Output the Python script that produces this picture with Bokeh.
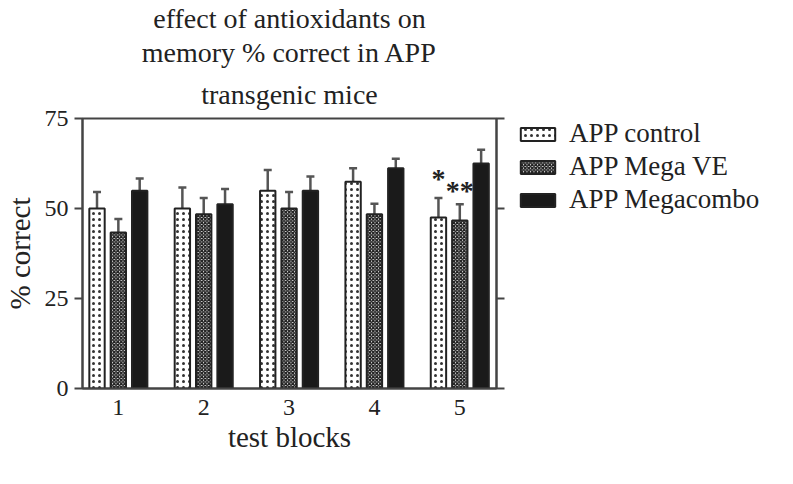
from bokeh.plotting import figure
from bokeh.layouts import row
from bokeh.models import (Range1d, FixedTicker, LinearAxis, Legend, LegendItem,
                          Whisker, ColumnDataSource, TeeHead, Title, Label)
from bokeh.embed import file_html
from bokeh.resources import INLINE

# ---- data ----
blocks = [1, 2, 3, 4, 5]
block_labels = ["1", "2", "3", "4", "5"]
series_names = ["APP control", "APP Mega VE", "APP Megacombo"]
control = [50.0, 50.0, 54.9, 57.4, 47.5]
control_err = [4.6, 5.8, 5.8, 3.8, 5.4]
megave = [43.3, 48.4, 50.0, 48.4, 46.7]
megave_err = [3.8, 4.5, 4.6, 2.9, 4.5]
megacombo = [54.9, 51.2, 54.9, 61.2, 62.5]
megacombo_err = [3.4, 4.2, 4.0, 2.6, 3.8]
y_ticks = [0, 25, 50, 75]
title_lines = ["effect of antioxidants on", "memory % correct in APP", "transgenic mice"]
sig_text = ["*", "**"]
sig_block = [5, 5]
sig_series = [0, 1]
sig_y = [58.3, 55.0]

FONT = "Liberation Serif"
DARK = "#222222"
H = 468

p = figure(width=516, height=H, output_backend="svg", toolbar_location=None,
           x_range=Range1d(0.58, 5.43), y_range=Range1d(0, 75),
           min_border_left=76, min_border_right=20, min_border_top=112,
           min_border_bottom=80)
p.title = None
p.background_fill_color = "white"
p.border_fill_color = "white"
p.outline_line_color = "#444444"
p.outline_line_width = 2
p.grid.visible = False

offsets = [-0.25, 0.0, 0.25]
width = 0.18
vals = [control, megave, megacombo]
errs = [control_err, megave_err, megacombo_err]
styles = [
    dict(fill_color="white", hatch_pattern="dot", hatch_scale=6, hatch_weight=2.2,
         hatch_color="#333333"),
    dict(fill_color="white", hatch_pattern="diagonal_cross", hatch_scale=3.5,
         hatch_weight=1.6, hatch_color="#222222"),
    dict(fill_color="#1a1a1a"),
]
sources = []
for i in range(3):
    xs = [b + offsets[i] for b in blocks]
    src = ColumnDataSource(dict(x=xs, top=vals[i],
                                upper=[v + e for v, e in zip(vals[i], errs[i])]))
    sources.append(src)
    w = Whisker(source=src, base="x", lower="top", upper="upper",
                line_color="#555555", line_width=2.5, lower_head=None,
                upper_head=TeeHead(size=8, line_color="#555555", line_width=2.5))
    p.add_layout(w)
    p.vbar(x="x", top="top", width=width, bottom=0, source=src,
           line_color=DARK, line_width=2, **styles[i])

# significance markers
for t, b, s, y in zip(sig_text, sig_block, sig_series, sig_y):
    p.add_layout(Label(x=b + offsets[s], y=y, text=t, text_align="center",
                       text_baseline="alphabetic", text_font=FONT,
                       text_font_style="bold", text_font_size="28px",
                       text_color=DARK))

# axes
p.xaxis.ticker = FixedTicker(ticks=blocks)
p.xaxis.major_label_overrides = {b: l for b, l in zip(blocks, block_labels)}
p.xaxis.major_tick_out = 0
p.xaxis.major_tick_in = 0
p.xaxis.minor_tick_line_color = None
p.xaxis.major_label_standoff = 11
p.xaxis.axis_label = "test blocks"
p.xaxis.axis_label_standoff = 3

p.yaxis.ticker = FixedTicker(ticks=y_ticks)
p.yaxis.major_tick_out = 8
p.yaxis.major_tick_in = 0
p.yaxis.minor_tick_line_color = None
p.yaxis.major_label_standoff = 6
p.yaxis.axis_label = "% correct"
p.yaxis.axis_label_standoff = 6

right = LinearAxis(ticker=FixedTicker(ticks=y_ticks), major_tick_out=8,
                   major_tick_in=0, minor_tick_line_color=None,
                   major_label_overrides={t: "" for t in y_ticks},
                   major_label_standoff=12)
p.add_layout(right, "right")

for ax in [p.xaxis[0], p.yaxis[0], right]:
    ax.axis_line_color = "#444444"
    ax.axis_line_width = 2
    ax.major_tick_line_color = "#444444"
    ax.major_tick_line_width = 2
    ax.major_label_text_font = FONT
    ax.axis_label_text_font = FONT
    ax.axis_label_text_font_style = "normal"
    ax.axis_label_text_font_size = "29px"
    ax.major_label_text_color = DARK
    ax.axis_label_text_color = DARK
    ax.major_label_text_font_size = "24px"

# title (three centred lines, nearest-to-frame first)
for line, so in zip(reversed(title_lines), [17, 2, 0]):
    p.add_layout(Title(text=line, align="center", text_font=FONT,
                       text_font_style="normal", text_font_size="28px",
                       text_color=DARK, standoff=so), "above")

# legend in a side figure; its bars share the data but lie off to the left of
# its view, level with the legend box, whose white background hides them
lf = figure(width=261, height=H, output_backend="svg", toolbar_location=None,
            x_range=Range1d(1000, 2000), y_range=Range1d(-300, 100),
            min_border_left=0, min_border_right=0, min_border_top=112,
            min_border_bottom=80, x_axis_location=None, y_axis_location=None)
lf.title = None
lf.outline_line_color = None
lf.grid.visible = False
lrs = []
for i in range(3):
    lrs.append(lf.vbar(x="x", top="top", width=width, bottom=0, source=sources[i],
                       line_color=DARK, line_width=2, **styles[i]))
legend = Legend(items=[LegendItem(label=n, renderers=[r]) for n, r in zip(series_names, lrs)],
                location="top_left", orientation="vertical",
                label_text_font=FONT, label_text_font_size="27px",
                label_text_color=DARK, glyph_width=43, glyph_height=16,
                label_height=28, spacing=2, padding=12, margin=0,
                label_standoff=10, border_line_color=None,
                background_fill_color="white", background_fill_alpha=1)
lf.add_layout(legend, "center")

open("out.html", "w").write(file_html(row(p, lf), INLINE))
